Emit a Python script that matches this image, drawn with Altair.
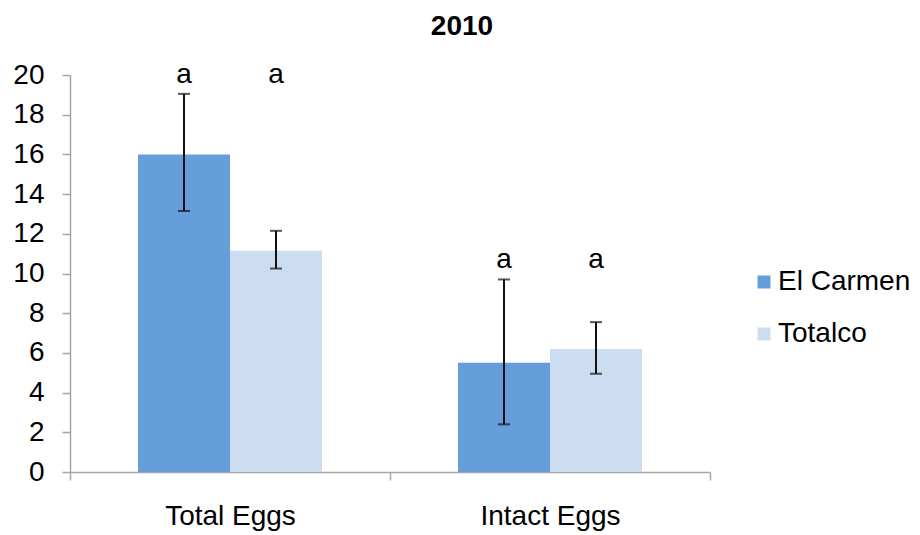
import altair as alt
import pandas as pd

# Mean egg counts per site with error-bar bounds
groups = ["Total Eggs", "Intact Eggs"]
sites = ["El Carmen", "Totalco"]

el_carmen_mean = [16.0, 5.5]
el_carmen_low = [13.15, 2.4]
el_carmen_high = [19.05, 9.7]

totalco_mean = [11.15, 6.2]
totalco_low = [10.25, 4.95]
totalco_high = [12.15, 7.55]

letters = ["a", "a", "a", "a"]

rows = []
for i, g in enumerate(groups):
    rows.append({"group": g, "site": sites[0], "mean": el_carmen_mean[i],
                 "low": el_carmen_low[i], "high": el_carmen_high[i]})
    rows.append({"group": g, "site": sites[1], "mean": totalco_mean[i],
                 "low": totalco_low[i], "high": totalco_high[i]})
df = pd.DataFrame(rows)
df["letter"] = letters
df["top"] = df.groupby("group")["high"].transform("max")

FONT = "Liberation Sans"
AXIS_GRAY = "#A6A6A6"
FS = 28

x = alt.X("group:N", sort=groups, title=None,
          scale=alt.Scale(paddingInner=0, paddingOuter=0),
          axis=alt.Axis(labelAngle=0, labelFont=FONT, labelFontSize=FS,
                        labelColor="#000000", labelPadding=22,
                        domainColor=AXIS_GRAY, domainWidth=1.5,
                        tickColor=AXIS_GRAY, tickWidth=1.5, tickSize=8,
                        tickBand="extent"))
xo = alt.XOffset("site:N", sort=sites,
                 scale=alt.Scale(paddingInner=0, paddingOuter=0.739))

y_scale = alt.Scale(domain=[0, 20], nice=False)
y_axis = alt.Axis(values=list(range(0, 21, 2)), grid=False,
                  labelOverlap=False,
                  labelFont=FONT, labelFontSize=FS, labelColor="#000000",
                  labelPadding=18, domainColor=AXIS_GRAY, domainWidth=1.5,
                  tickColor=AXIS_GRAY, tickWidth=1.5, tickSize=8)


def y_enc(field):
    return alt.Y(field, title=None, scale=y_scale, axis=y_axis)


color = alt.Color("site:N", sort=sites, title=None,
                  scale=alt.Scale(domain=sites, range=["#669EDB", "#CCDDF2"]),
                  legend=alt.Legend(orient="none", legendX=680, legendY=193,
                                    symbolType="square", symbolSize=169,
                                    symbolStrokeWidth=0, labelFont=FONT,
                                    labelFontSize=FS, labelColor="#000000",
                                    labelOffset=0, rowPadding=24))

bars = alt.Chart(df).mark_bar(opacity=1).encode(
    x=x, xOffset=xo, y=y_enc("mean:Q"), color=color)

err = alt.Chart(df).mark_rule(color="#111111", strokeWidth=2).encode(
    x=x, xOffset=xo, y=y_enc("low:Q"), y2="high:Q")
cap_hi = alt.Chart(df).mark_tick(color="#111111", thickness=2, size=12).encode(
    x=x, xOffset=xo, y=y_enc("high:Q"))
cap_lo = alt.Chart(df).mark_tick(color="#111111", thickness=2, size=12).encode(
    x=x, xOffset=xo, y=y_enc("low:Q"))

labels = alt.Chart(df).mark_text(font=FONT, fontSize=FS, color="#000000",
                                 baseline="alphabetic", dy=-11).encode(
    x=x, xOffset=xo, y=y_enc("top:Q"), text="letter:N")

chart = alt.layer(bars, err, cap_hi, cap_lo, labels).properties(
    width=640, height=397,
    title=alt.TitleParams("2010", font=FONT, fontSize=FS, fontWeight="bold",
                          color="#000000", anchor="middle", dx=72, offset=20),
    autosize=alt.AutoSizeParams(type="none"),
    padding={"left": 70, "top": 75, "right": 210, "bottom": 63},
).configure_view(stroke=None)

chart.save("out.html", embed_options={"renderer": "svg", "actions": False})
